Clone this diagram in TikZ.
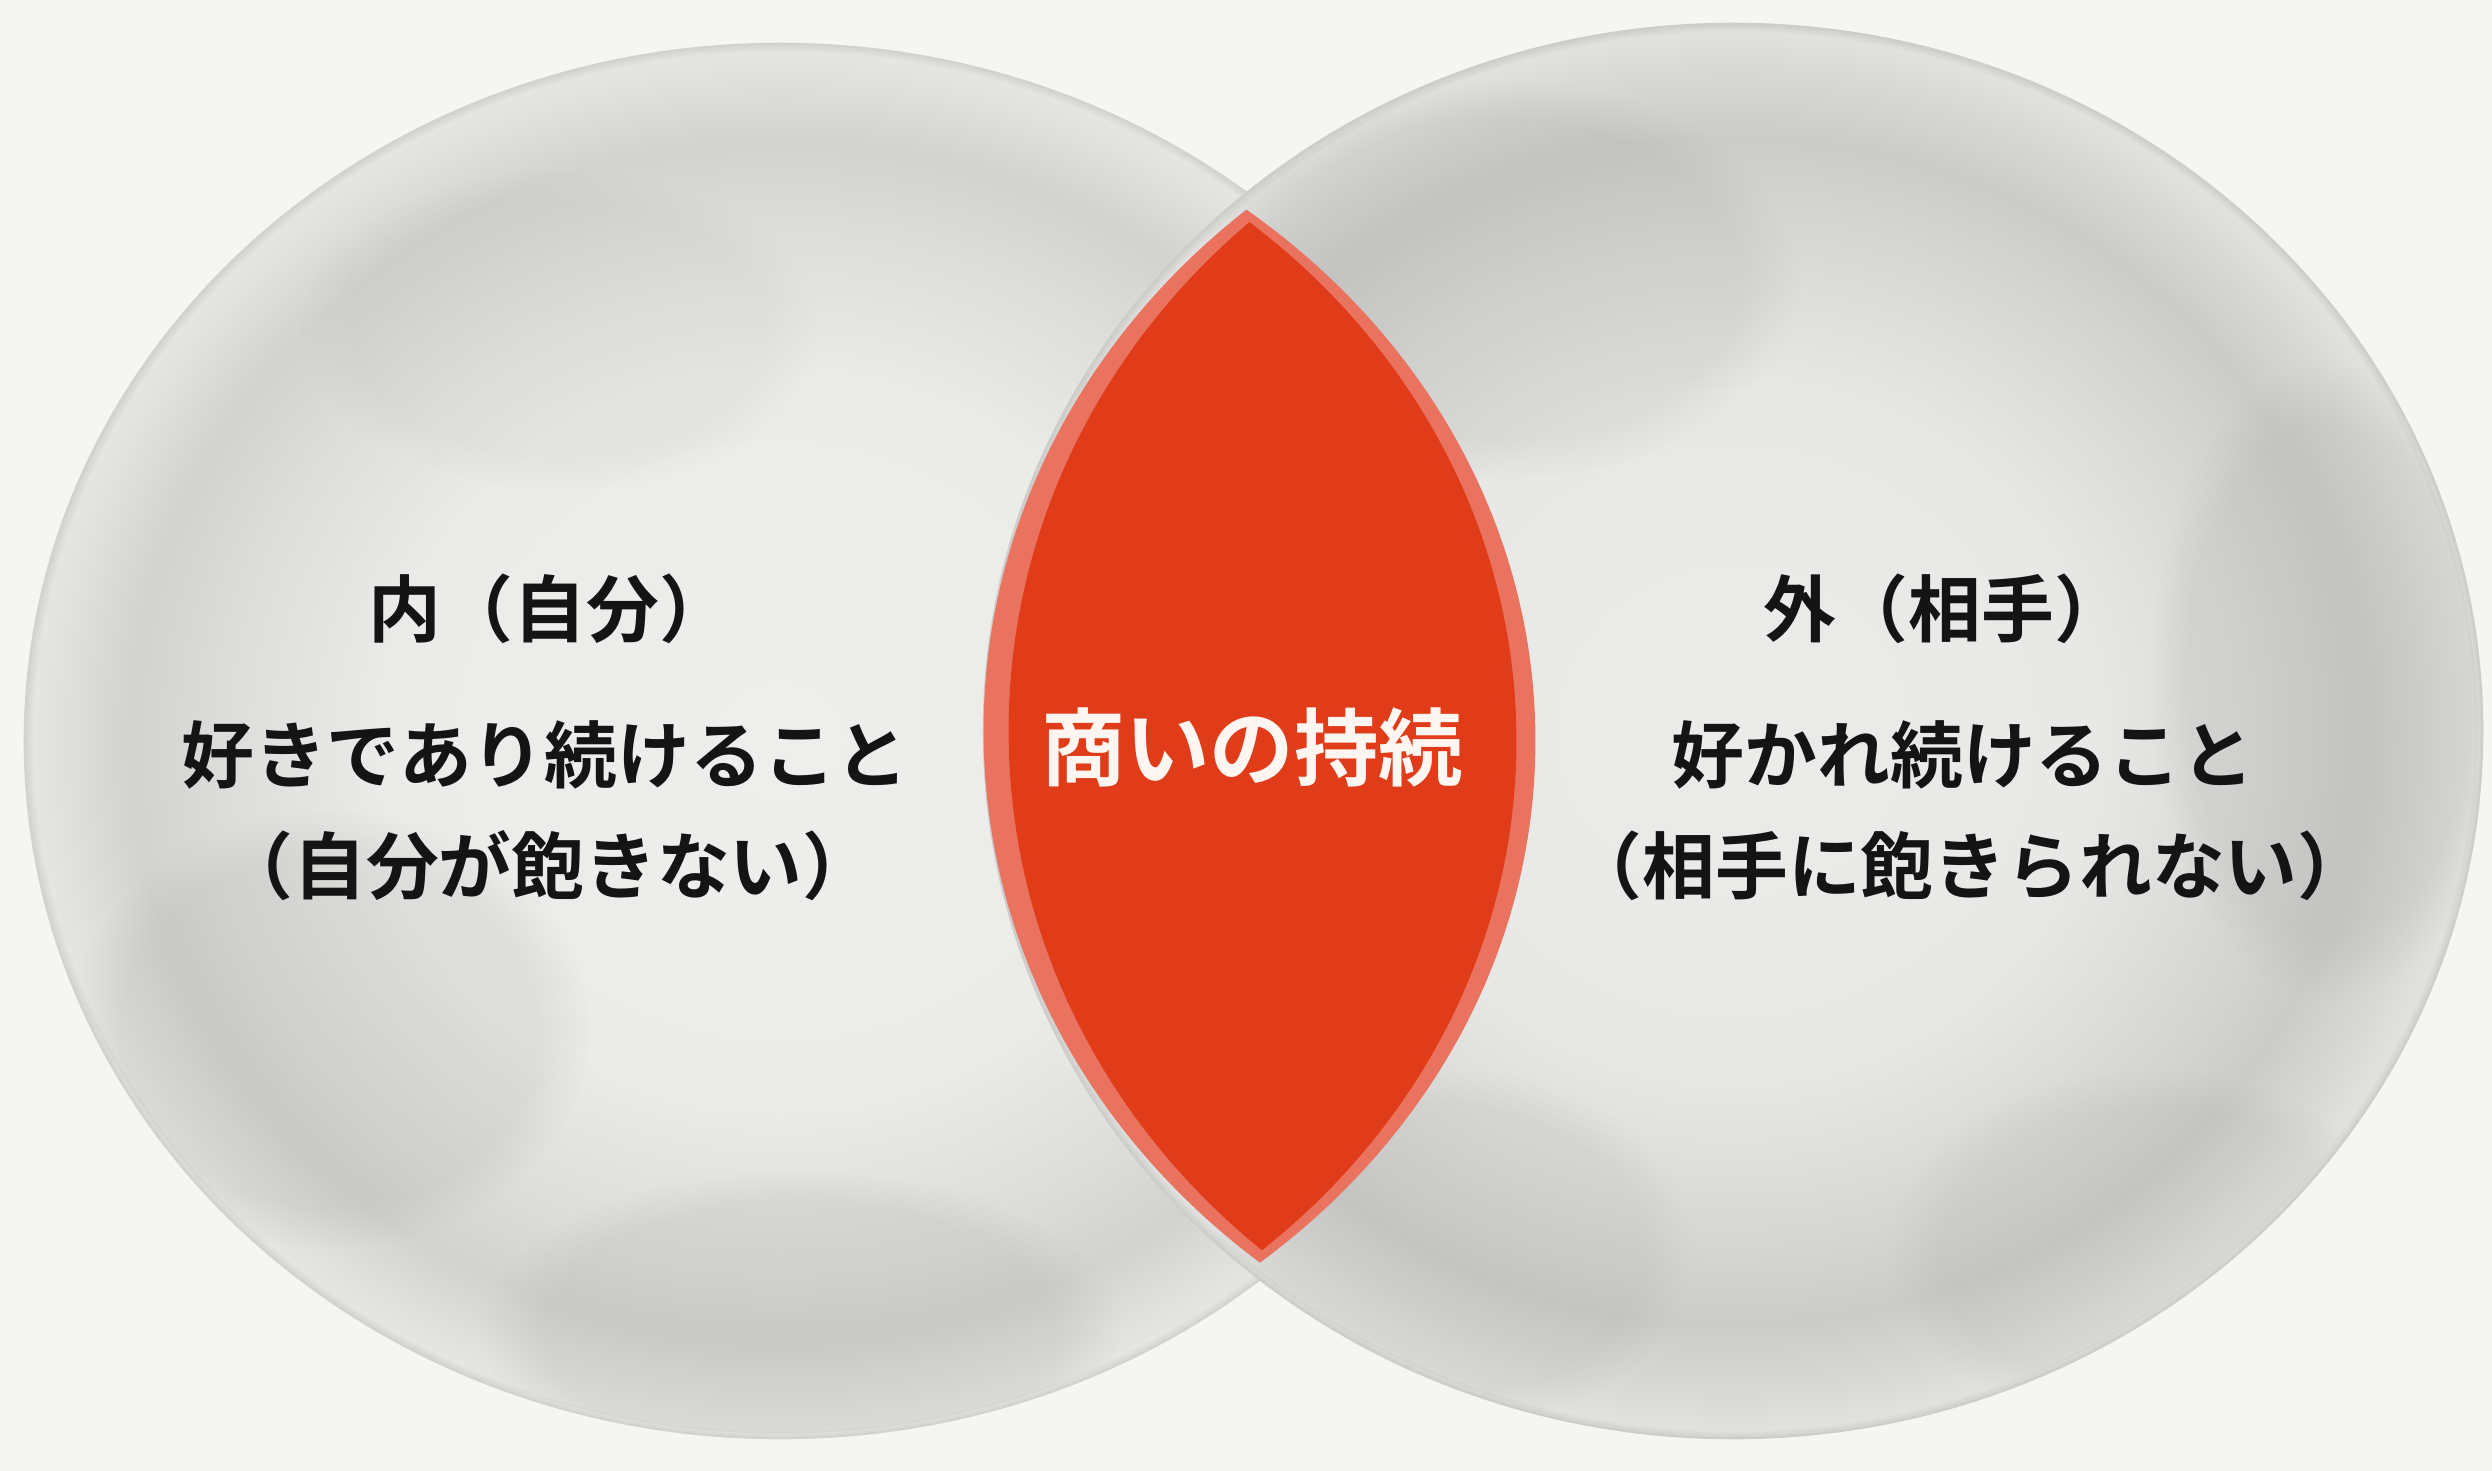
\documentclass[tikz,border=0pt]{standalone}
\usepackage{fontspec}
\newfontfamily\cjk{Noto Sans CJK JP}[BoldFont={Noto Sans CJK JP Bold}]
\usetikzlibrary{fadings}
\definecolor{paper}{HTML}{F5F5F1}
\definecolor{lA}{HTML}{EEEEEC}
\definecolor{lB}{HTML}{EBEBE9}
\definecolor{lC}{HTML}{DCDCDA}
\definecolor{lD}{HTML}{D2D2D0}
\definecolor{lE}{HTML}{DEDEDC}
\definecolor{lF}{HTML}{E5E5E3}
\definecolor{lG}{HTML}{D2D2D0}
\definecolor{rA}{HTML}{EBEBE9}
\definecolor{rB}{HTML}{E8E8E6}
\definecolor{rC}{HTML}{D6D6D4}
\definecolor{rD}{HTML}{CBCBC9}
\definecolor{rE}{HTML}{D9D9D7}
\definecolor{rF}{HTML}{E1E1DF}
\definecolor{rG}{HTML}{CDCDCB}
\definecolor{patch}{HTML}{8E8E8C}
\definecolor{redrim}{HTML}{E9735F}
\definecolor{redcore}{HTML}{E13C19}
\definecolor{ink}{HTML}{141414}
\definecolor{whiteink}{HTML}{FFF6F2}
\pgfdeclareradialshading{washL}{\pgfpoint{0bp}{0bp}}{color(0bp)=(lA); color(13bp)=(lB); color(18.5bp)=(lC); color(21.5bp)=(lD); color(23.5bp)=(lE); color(24.7bp)=(lF); color(25bp)=(lG); color(50bp)=(lG)}
\pgfdeclareradialshading{washR}{\pgfpoint{0bp}{0bp}}{color(0bp)=(rA); color(12bp)=(rB); color(18bp)=(rC); color(21bp)=(rD); color(23.5bp)=(rE); color(24.7bp)=(rF); color(25bp)=(rG); color(50bp)=(rG)}
\tikzset{
  label/.style={font=\cjk\bfseries\fontsize{20.7}{24}\selectfont, text=ink, inner sep=0pt, anchor=center},
  centerlabel/.style={font=\cjk\bfseries\fontsize{24}{28}\selectfont, text=whiteink, inner sep=0pt, anchor=center},
  blobedge/.style={line width=0.5pt},
  softpatch/.style={fill=patch, path fading=circle with fuzzy edge 20 percent, opacity=0.13}
}
\begin{document}
\begin{tikzpicture}[x=0.01cm,y=-0.01cm]
\fill[paper] (0,0) rectangle (2492,1471);
\useasboundingbox (0,0) rectangle (2492,1471);
% grey watercolour blobs
\shade[shading=washL, draw=lG, blobedge] (780,741) ellipse [x radius=7.55cm, y radius=6.97cm];
\begin{scope}
  \clip (780,741) ellipse [x radius=7.5cm, y radius=6.92cm];
  \fill[softpatch] (330,1030) ellipse [x radius=2.6cm, y radius=2.2cm];
  \fill[softpatch] (800,1330) ellipse [x radius=3.2cm, y radius=1.6cm];
  \fill[softpatch, opacity=0.07] (560,330) ellipse [x radius=2.6cm, y radius=1.6cm];
\end{scope}
\shade[shading=washR, draw=rG, blobedge] (1733,731) ellipse [x radius=7.49cm, y radius=7.07cm];
\begin{scope}
  \clip (1733,731) ellipse [x radius=7.44cm, y radius=7.02cm];
  \fill[softpatch] (1500,280) ellipse [x radius=3.0cm, y radius=2.0cm];
  \fill[softpatch] (2330,680) ellipse [x radius=1.8cm, y radius=3.2cm];
  \fill[softpatch, opacity=0.1] (1450,1250) ellipse [x radius=2.4cm, y radius=1.8cm];
  \fill[softpatch, opacity=0.1] (2150,1250) ellipse [x radius=2.6cm, y radius=1.8cm];
\end{scope}
% red intersection lens
\begin{scope}
  \clip (780,741) ellipse [x radius=7.55cm, y radius=6.75cm];
  \fill[redrim] (1733,731) ellipse [x radius=7.49cm, y radius=6.85cm];
  \clip (780,741) ellipse [x radius=7.36cm, y radius=6.73cm];
  \fill[redcore] (1733,731) ellipse [x radius=7.24cm, y radius=6.83cm];
\end{scope}
% texts
\node[label] (inT) at (550,609) {内（自分）};
\node[label] (inA) at (545,755) {好きであり続けること};
\node[label] (inB) at (548,866) {（自分が飽きない）};
\node[centerlabel] (mid) at (1252,747) {商いの持続};
\node[label] (outT) at (1945,609) {外（相手）};
\node[label] (outA) at (1963,755) {好かれ続けること};
\node[label] (outB) at (1970,866) {（相手に飽きられない）};
\end{tikzpicture}
\end{document}
